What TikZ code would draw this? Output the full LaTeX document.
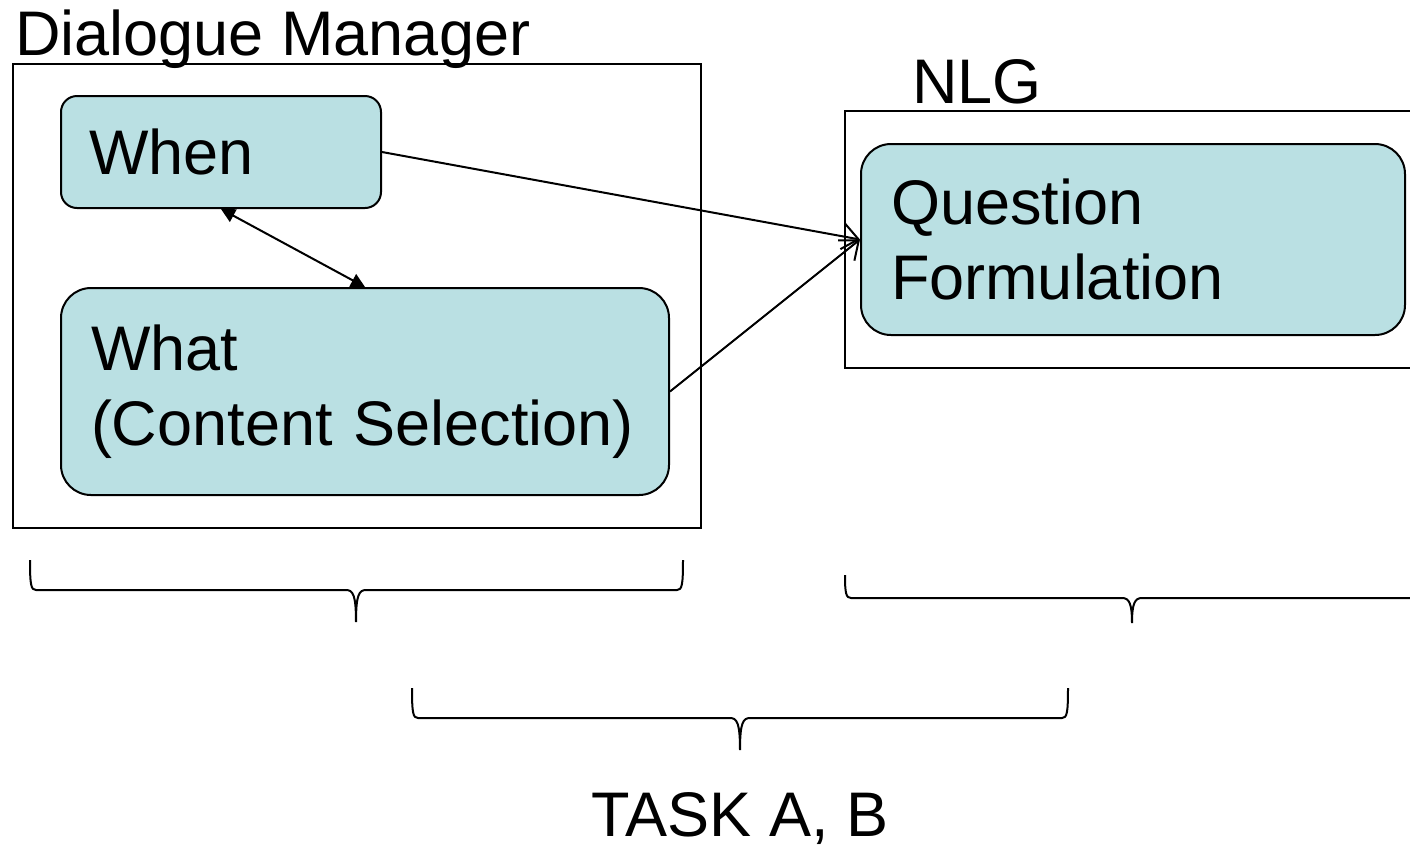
\documentclass[tikz,border=0pt]{standalone}
\usepackage{fontspec}
\setmainfont{Liberation Sans}
\usepackage{tikz}
\usetikzlibrary{arrows.meta}
\definecolor{boxfill}{RGB}{186,224,227}
\tikzset{
	stage/.style={draw,line width=1pt,rectangle,anchor=north west,inner sep=0pt},
	task/.style={draw,line width=1pt,fill=boxfill,anchor=north west,align=left},
	caption/.style={anchor=base west,inner sep=0pt},
	flow/.style={line width=1pt,-{Straight Barb[length=8pt,width=13pt]}},
	both/.style={line width=1pt,{Triangle[length=7pt,width=7pt]}-{Triangle[length=7pt,width=7pt]}},
}
% open brace: x1, x2, middle, top of ends, bar, tip
\newcommand{\ppbrace}[6]{%
	\draw[line width=1pt] (#1,#4) .. controls (#1,#5-5) and (#1+1,#5) .. (#1+6,#5)
	-- (#3-10,#5) .. controls (#3-3,#5) and (#3,#5+5) .. (#3,#6)
	.. controls (#3,#5+5) and (#3+3,#5) .. (#3+10,#5)
	-- (#2-6,#5) .. controls (#2-1,#5) and (#2,#5-5) .. (#2,#4);}
\begin{document}
\begin{tikzpicture}[x=0.5pt,y=-0.5pt,font=\fontsize{31.5}{37.5}\selectfont]
	\useasboundingbox (0,0) rectangle (1410,848);
	\clip (0,0) rectangle (1410,848);
	% frames
	\node[stage,minimum width=344pt,minimum height=232pt] (dm) at (12,63) {};
	\node[stage,minimum width=300pt,minimum height=128.5pt] (nlg) at (844,110) {};
	\node[caption] (dmtitle) at (15,55) {Dialogue Manager};
	\node[caption] (nlgtitle) at (912,103) {NLG};
	% modules
	\node[task,rounded corners=8pt,minimum width=160pt,minimum height=56pt,
	text width=132pt,inner xsep=14pt] (when) at (60,95) {When};
	\node[task,rounded corners=15pt,minimum width=304pt,minimum height=103.5pt,
	text width=274pt,inner xsep=15pt] (what) at (60,287) {What\\(Content Selection)};
	\node[task,rounded corners=15pt,minimum width=272pt,minimum height=95.5pt,
	text width=242pt,inner xsep=15pt] (qf) at (860,143) {Question\\Formulation};
	\draw[flow] (when.east) -- (qf.west);
	\draw[flow] (what.east) -- (qf.west);
	\draw[both] (when.south) -- (what.north);
	% braces
	\ppbrace{30}{683}{356}{560}{590}{622}
	\ppbrace{845}{1419}{1132}{575}{598}{623}
	\ppbrace{412}{1068}{740}{688}{718}{750}
	\node[anchor=base,inner sep=0pt] (tasks) at (740,836) {TASK A, B};
\end{tikzpicture}
\end{document}
